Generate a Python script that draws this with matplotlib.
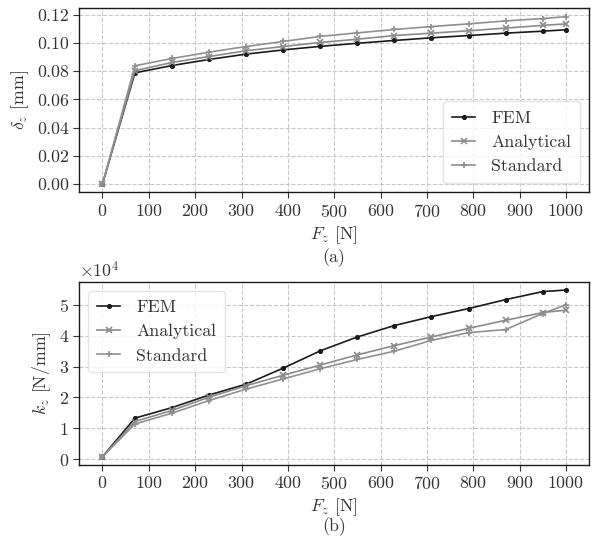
import matplotlib
matplotlib.use("Agg")
import matplotlib.pyplot as plt

plt.rcParams['font.family'] = ['cmr10', 'DejaVu Serif']
plt.rcParams['mathtext.fontset'] = 'cm'
plt.rcParams['axes.unicode_minus'] = False
plt.rcParams['axes.formatter.use_mathtext'] = True
plt.rcParams['font.size'] = 12.8

force = [0, 70, 150, 230, 310, 390, 470, 550, 630, 710, 790, 870, 950, 1000]

delta_fem = [0.0, 0.0789, 0.0841, 0.0884, 0.0922, 0.0952, 0.0977, 0.0999, 0.1019,
             0.1038, 0.1054, 0.1071, 0.1085, 0.1095]
delta_ana = [0.0, 0.0804, 0.0863, 0.0905, 0.0946, 0.0976, 0.1005, 0.1028, 0.1054,
             0.1071, 0.1088, 0.1107, 0.1126, 0.1137]
delta_std = [0.0, 0.0839, 0.0891, 0.0936, 0.0976, 0.1012, 0.1048, 0.1073, 0.1097,
             0.1118, 0.1137, 0.1158, 0.1175, 0.1188]

k_fem = [800, 13300, 16700, 20800, 24300, 29500, 35100, 39600, 43300,
         46200, 48800, 51700, 54300, 54800]
k_ana = [800, 12200, 15800, 20100, 23800, 27200, 30500, 33800, 36800,
         39600, 42400, 45000, 47500, 48300]
k_std = [800, 11400, 14900, 19000, 22700, 26000, 29300, 32300, 35000,
         38500, 41000, 42000, 47200, 50000]

labels = ['FEM', 'Analytical', 'Standard']
colors = ['#1a1a1a', '#8a8a8a', '#909090']
markers = ['.', 'x', '+']

fig = plt.figure(figsize=(5.92, 5.37), dpi=100)
ax1 = fig.add_axes([0.134, 0.642, 0.861, 0.3425])
ax2 = fig.add_axes([0.134, 0.134, 0.861, 0.3414])

for ax, series in ((ax1, (delta_fem, delta_ana, delta_std)),
                   (ax2, (k_fem, k_ana, k_std))):
    for vals, lab, c, m in zip(series, labels, colors, markers):
        ax.plot(force, vals, color=c, marker=m, markersize=4.5 if m != '.' else 5,
                linewidth=1.2, label=lab, markeredgewidth=1.2)
    ax.grid(True, linestyle='--', color='#c8c8c8', linewidth=0.8)
    ax.set_axisbelow(True)
    ax.set_xticks(range(0, 1001, 100))
    for s in ax.spines.values():
        s.set_color('#1a1a1a')
        s.set_linewidth(1.0)
    ax.tick_params(direction='out', length=4, color='#333333', labelcolor='#333333')
    ax.set_xlabel(r'$F_z$ [N]', color='#333333', labelpad=3)

ax1.set_yticks([0.0, 0.02, 0.04, 0.06, 0.08, 0.10, 0.12])
ax1.set_yticklabels(['0.00', '0.02', '0.04', '0.06', '0.08', '0.10', '0.12'])
ax1.set_ylabel(r'$\delta_z$ [mm]', color='#333333')
ax1.text(0.5, -0.302, '(a)', transform=ax1.transAxes, ha='center', va='top',
         color='#333333')
ax1.legend(loc='lower right', framealpha=0.8, edgecolor='#dddddd',
           labelcolor='#333333', borderpad=0.5, handlelength=1.3,
           handletextpad=0.9)

ax2.set_yticks([0, 10000, 20000, 30000, 40000, 50000])
ax2.ticklabel_format(style='sci', axis='y', scilimits=(0, 0), useMathText=True)
ax2.set_ylabel(r'$k_z$ [N/mm]', color='#333333')
ax2.yaxis.get_offset_text().set_color('#333333')
ax2.text(0.5, -0.284, '(b)', transform=ax2.transAxes, ha='center', va='top',
         color='#333333')
ax2.legend(loc='upper left', framealpha=0.8, edgecolor='#dddddd',
           labelcolor='#333333', borderpad=0.5, handlelength=1.3,
           handletextpad=0.9)

fig.savefig('out.png', dpi=100)
